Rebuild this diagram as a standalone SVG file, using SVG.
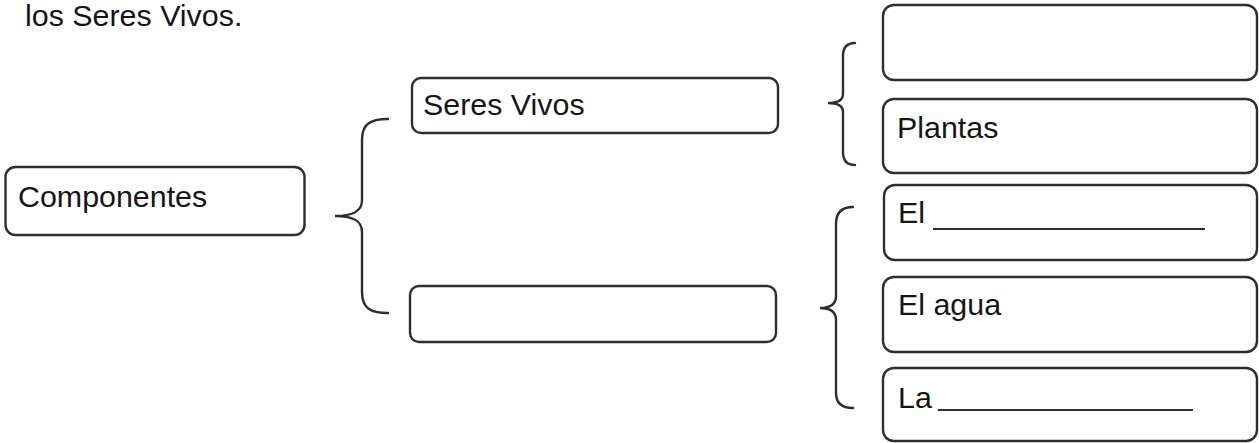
<svg xmlns="http://www.w3.org/2000/svg" width="1259" height="443" viewBox="0 0 1259 443">
<style>
.box{fill:#fff;stroke:#2e2e2e;stroke-width:2.4}
.br{fill:none;stroke:#2e2e2e;stroke-width:2.4;stroke-linecap:round}
.t{font-family:"Liberation Sans",Arial,sans-serif;font-size:30.4px;fill:#151515}
.ul{stroke:#2e2e2e;stroke-width:2}
</style>
<rect width="1259" height="443" fill="#fff"/>
<text class="t" x="25" y="26">los Seres Vivos.</text>
<g id="connectors">
<path class="br" d="M388,119 C370,119 362,124 362,140 L362,200 C362,212 352,216 335,216 C352,216 362,220 362,232 L362,292 C362,308 370,313 388,313"/>
<path class="br" d="M855,43 C847,43 843,47 843,56 L843,94 C843,100 838,103 828,103 C838,103 843,106 843,112 L843,152 C843,161 847,165 855,165"/>
<path class="br" d="M853,207 C842,207 836,212 836,224 L836,296 C836,304 830,308 820,308 C830,308 836,312 836,320 L836,393 C836,403 842,408 853,408"/>
</g>
<g id="componentes"><rect class="box" x="5.5" y="167" width="299" height="68" rx="10"/><text class="t" x="18" y="207">Componentes</text></g>
<g id="seres-vivos"><rect class="box" x="412" y="78" width="366" height="55" rx="9"/><text class="t" x="423" y="115">Seres Vivos</text></g>
<g id="blank-middle"><rect class="box" x="410" y="286" width="366" height="56" rx="9"/></g>
<g id="blank-top"><rect class="box" x="883" y="5" width="374" height="75" rx="11"/></g>
<g id="plantas"><rect class="box" x="883" y="99" width="374" height="74" rx="11"/><text class="t" x="897" y="138">Plantas</text></g>
<g id="el-blank"><rect class="box" x="884" y="185" width="373" height="75" rx="11"/><text class="t" x="898" y="223">El</text><line class="ul" x1="933" y1="229" x2="1205" y2="229"/></g>
<g id="el-agua"><rect class="box" x="883" y="277" width="374" height="75" rx="11"/><text class="t" x="898" y="315">El agua</text></g>
<g id="la-blank"><rect class="box" x="883" y="368" width="374" height="73" rx="11"/><text class="t" x="898" y="408">La</text><line class="ul" x1="938" y1="410" x2="1193" y2="410"/></g>
</svg>
